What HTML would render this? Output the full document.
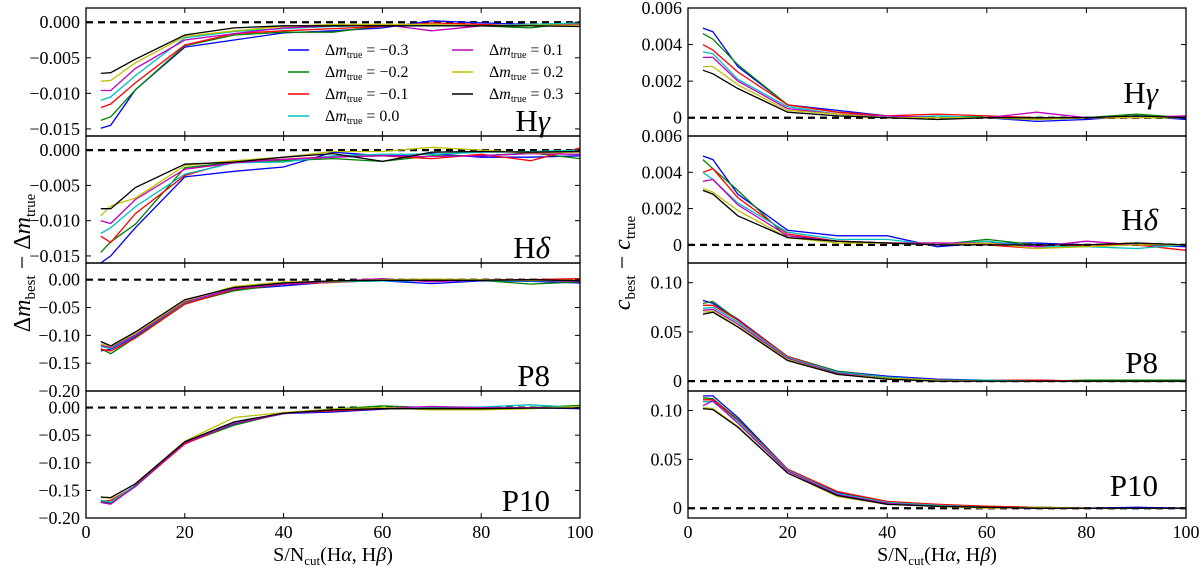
<!DOCTYPE html>
<html><head><meta charset="utf-8"><style>
html,body{margin:0;padding:0;background:#fff;}
svg, svg text{font-family:"Liberation Serif","DejaVu Serif",serif;}
</style></head><body>
<svg id="fig" width="1200" height="568" viewBox="0 0 1200 568" xmlns="http://www.w3.org/2000/svg" font-family="Liberation Serif, DejaVu Serif, serif"></svg>
<script>
const xs = [3,5,10,20,30,40,50,60,70,80,90,100];
const seriesColors = ['#0000ff','#008000','#ff0000','#00bfbf','#bf00bf','#bfbf00','#000000'];
const legendLabels = ['\u22120.3','\u22120.2','\u22120.1','0.0','0.1','0.2','0.3'];
const xTicks = [0,20,40,60,80,100];

const lHg = [
[-0.0149,-0.0145,-0.0095,-0.0035,-0.0025,-0.0015,-0.0012,-0.0008,0.0002,-0.0001,-0.0003,-0.0003],
[-0.0138,-0.0133,-0.0095,-0.0033,-0.0018,-0.0014,-0.0014,-0.0005,-0.0004,-0.0005,-0.0008,0.0],
[-0.012,-0.0115,-0.0085,-0.0032,-0.0016,-0.0012,-0.0009,-0.0006,-0.0001,-0.0003,-0.0005,-0.0002],
[-0.011,-0.0105,-0.0075,-0.0022,-0.0013,-0.0009,-0.0006,-0.0004,-0.0003,-0.0005,-0.0003,-0.0001],
[-0.0096,-0.0096,-0.0065,-0.0025,-0.0016,-0.0008,-0.0005,-0.0003,-0.0012,-0.0005,-0.0005,-0.0003],
[-0.0083,-0.0082,-0.0057,-0.002,-0.0012,-0.0006,-0.0003,-0.0003,-0.0003,-0.0005,-0.0004,-0.0004],
[-0.0072,-0.0071,-0.0052,-0.0018,-0.0008,-0.0005,-0.0005,-0.0005,-0.0005,-0.0005,-0.0005,-0.0006]];
const lHd = [
[-0.016,-0.015,-0.011,-0.0038,-0.003,-0.0024,-0.0003,-0.0008,-0.0005,-0.001,-0.001,-0.0008],
[-0.0145,-0.013,-0.0105,-0.0025,-0.0017,-0.0015,-0.0012,-0.0016,-0.0008,-0.0008,-0.0004,-0.0012],
[-0.0122,-0.0131,-0.009,-0.0036,-0.0016,-0.0013,-0.0009,-0.0008,-0.0012,-0.0006,-0.0015,0.0003],
[-0.0118,-0.011,-0.008,-0.0034,-0.0018,-0.0017,-0.0008,-0.0006,-0.0006,-0.0003,-0.0002,0.0],
[-0.01,-0.0104,-0.007,-0.0027,-0.0018,-0.0013,-0.001,-0.0008,-0.0009,-0.0008,-0.0005,-0.0006],
[-0.0093,-0.0079,-0.0068,-0.0022,-0.0015,-0.001,-0.0002,-0.0002,0.0004,0.0,-0.0004,-0.0003],
[-0.0083,-0.0083,-0.0053,-0.002,-0.0017,-0.001,-0.0005,-0.0016,-0.0003,-0.0002,-0.0003,-0.0002]];
const lP8 = [
[-0.128,-0.125,-0.102,-0.042,-0.018,-0.011,-0.004,-0.002,-0.007,-0.002,-0.003,-0.006],
[-0.124,-0.133,-0.104,-0.043,-0.02,-0.008,-0.004,-0.001,-0.002,-0.001,-0.008,-0.004],
[-0.125,-0.128,-0.105,-0.044,-0.017,-0.008,-0.005,-0.001,-0.002,0.0,0.0,0.002],
[-0.12,-0.124,-0.1,-0.041,-0.016,-0.007,-0.004,-0.002,-0.002,-0.001,-0.002,-0.003],
[-0.118,-0.122,-0.099,-0.04,-0.016,-0.008,-0.003,0.002,-0.004,0.0,-0.001,-0.003],
[-0.115,-0.12,-0.096,-0.038,-0.012,-0.004,-0.003,0.0,0.001,0.0,-0.001,-0.001],
[-0.111,-0.119,-0.094,-0.036,-0.014,-0.006,-0.002,-0.001,-0.001,-0.001,0.0,-0.002]];
const lP10 = [
[-0.171,-0.174,-0.143,-0.064,-0.03,-0.011,-0.008,-0.003,0.002,-0.002,0.0,-0.002],
[-0.17,-0.172,-0.143,-0.065,-0.032,-0.01,-0.003,0.003,0.0,-0.001,0.0,0.004],
[-0.17,-0.168,-0.142,-0.066,-0.028,-0.01,-0.006,-0.002,-0.002,-0.002,-0.001,0.0],
[-0.168,-0.171,-0.141,-0.063,-0.028,-0.011,-0.004,-0.001,0.001,0.001,0.005,0.0],
[-0.172,-0.175,-0.142,-0.064,-0.029,-0.011,-0.004,-0.001,0.002,0.0,0.0,0.0],
[-0.163,-0.164,-0.138,-0.061,-0.018,-0.009,-0.003,0.0,-0.004,-0.004,-0.002,0.002],
[-0.162,-0.163,-0.138,-0.062,-0.026,-0.01,-0.004,-0.002,-0.002,-0.002,-0.001,-0.001]];
const rHg = [
[0.0049,0.0047,0.0028,0.0007,0.0004,0.0001,0.0,0.0,-0.0002,-0.0001,0.0001,-0.0001],
[0.0046,0.0043,0.0029,0.0007,0.0003,0.0001,0.0,0.0001,-0.0001,0.0,0.0002,0.0],
[0.004,0.0037,0.0025,0.0007,0.0003,0.0001,0.0002,0.0001,0.0,0.0,0.0,0.0001],
[0.0036,0.0035,0.0021,0.0006,0.0002,0.0,0.0001,0.0,-0.0001,0.0,0.0001,0.0],
[0.0033,0.0033,0.002,0.0005,0.0002,0.0001,0.0,0.0,0.0003,0.0,0.0,0.0001],
[0.0028,0.0028,0.0018,0.0004,0.0002,0.0,0.0,0.0,-0.0001,0.0,0.0,0.0],
[0.0026,0.0024,0.0016,0.0003,0.0001,0.0,-0.0001,0.0,0.0,0.0,0.0001,0.0]];
const rHd = [
[0.0049,0.0047,0.0028,0.0008,0.0005,0.0005,-0.0001,0.0001,0.0001,0.0,0.0,-0.0001],
[0.0047,0.0042,0.003,0.0004,0.0002,0.0001,0.0,0.0003,0.0,0.0,0.0001,0.0],
[0.004,0.0042,0.0026,0.0006,0.0002,0.0001,0.0001,0.0,-0.0002,0.0,0.0,-0.0003],
[0.004,0.0036,0.0023,0.0007,0.0003,0.0003,0.0,0.0002,-0.0001,-0.0001,-0.0002,0.0],
[0.0035,0.0036,0.0022,0.0005,0.0002,0.0001,0.0001,0.0001,-0.0001,0.0002,0.0,0.0],
[0.0031,0.0029,0.0019,0.0004,0.0001,0.0001,0.0,0.0001,-0.0002,-0.0001,0.0,0.0],
[0.003,0.0028,0.0016,0.0004,0.0002,0.0001,0.0,0.0,0.0,0.0,0.0001,0.0]];
const rP8 = [
[0.082,0.079,0.063,0.025,0.010,0.005,0.002,0.001,0.001,0.0,0.001,0.0],
[0.079,0.081,0.062,0.025,0.010,0.004,0.001,0.001,0.0,0.001,0.001,0.001],
[0.077,0.077,0.062,0.025,0.009,0.004,0.001,0.001,0.001,0.0,0.0,0.0],
[0.074,0.075,0.060,0.024,0.009,0.004,0.001,0.001,0.0,0.0,0.0,0.0],
[0.072,0.073,0.058,0.023,0.008,0.003,0.001,0.0,0.0,0.0,0.0,0.0],
[0.070,0.071,0.056,0.022,0.007,0.003,0.001,0.0,0.0,0.0,0.0,0.0],
[0.068,0.070,0.055,0.021,0.007,0.002,0.0,0.0,0.0,0.0,0.0,0.0]];
const rP10 = [
[0.115,0.115,0.093,0.040,0.016,0.006,0.003,0.001,0.0,0.0,0.001,0.0],
[0.113,0.112,0.091,0.040,0.017,0.006,0.003,0.002,0.001,0.0,0.0,0.0],
[0.111,0.111,0.090,0.040,0.017,0.007,0.004,0.002,0.001,0.0,0.0,0.0],
[0.109,0.109,0.089,0.039,0.015,0.006,0.003,0.001,0.0,0.0,0.0,0.0],
[0.105,0.110,0.087,0.038,0.014,0.005,0.002,0.001,0.0,0.0,0.0,0.0],
[0.103,0.102,0.084,0.036,0.012,0.004,0.002,0.0,0.001,0.0,0.0,0.0],
[0.102,0.101,0.083,0.036,0.013,0.004,0.002,0.001,0.0,0.0,0.0,0.0]];

const lTickHg = ['0.000','\u22120.005','\u22120.010','\u22120.015'];
const lTickP = ['0.00','\u22120.05','\u22120.10','\u22120.15','\u22120.20'];
const rTickH = ['0.006','0.004','0.002','0'];
const rTickP = ['0.10','0.05','0'];

const NS='http://www.w3.org/2000/svg';
const FF='Liberation Serif, DejaVu Serif, serif';
const svg=document.getElementById('fig');
function mk(tag,attrs,parent){const e=document.createElementNS(NS,tag);for(const k in attrs)e.setAttribute(k,attrs[k]);if(tag==='text')e.setAttribute('font-family',FF);(parent||svg).appendChild(e);return e;}
function num(s){return parseFloat(s.replace('\u2212','-'));}

const panelTops=[8,136,263,391];
const panelH=[128,127,128,127];
const panels=[
 {side:'L',id:'hgamma-left',label:'H',greek:'\u03b3',data:lHg,ymin:-0.016,ymax:0.002,ticks:lTickHg,lx:550,ly:131},
 {side:'L',id:'hdelta-left',label:'H',greek:'\u03b4',data:lHd,ymin:-0.016,ymax:0.002,ticks:lTickHg,lx:550,ly:258},
 {side:'L',id:'p8-left',label:'P8',data:lP8,ymin:-0.2,ymax:0.03,ticks:lTickP,lx:550,ly:386},
 {side:'L',id:'p10-left',label:'P10',data:lP10,ymin:-0.2,ymax:0.03,ticks:lTickP,lx:550,ly:511},
 {side:'R',id:'hgamma-right',label:'H',greek:'\u03b3',data:rHg,ymin:-0.001,ymax:0.006,ticks:rTickH,lx:1158,ly:103},
 {side:'R',id:'hdelta-right',label:'H',greek:'\u03b4',data:rHd,ymin:-0.001,ymax:0.006,ticks:rTickH,lx:1158,ly:230},
 {side:'R',id:'p8-right',label:'P8',data:rP8,ymin:-0.01,ymax:0.12,ticks:rTickP,lx:1158,ly:373},
 {side:'R',id:'p10-right',label:'P10',data:rP10,ymin:-0.01,ymax:0.12,ticks:rTickP,lx:1158,ly:496}];

panels.forEach((p,i)=>{
  const k=i%4;
  const x0=p.side==='L'?86:688, x1=p.side==='L'?580:1186;
  const top=panelTops[k], h=panelH[k], bot=top+h;
  const sx=v=>x0+(v/100)*(x1-x0);
  const sy=v=>bot-(v-p.ymin)/(p.ymax-p.ymin)*h;
  const g=mk('g',{});
  
  
  const z=mk('line',{x1:x0,x2:x1,y1:sy(0),y2:sy(0),stroke:'#000','stroke-width':2.2,'stroke-dasharray':'7,5'},g);
  
  
  p.data.forEach((s,j)=>{
    const d=s.map((v,m)=>(m?'L':'M')+sx(xs[m]).toFixed(1)+','+sy(v).toFixed(1)).join('');
    const pl=mk('path',{d:d,fill:'none',stroke:seriesColors[j],'stroke-width':1.3},g);
    
    
  });
  const fr=mk('rect',{x:x0,y:top,width:x1-x0,height:h,fill:'none',stroke:'#000','stroke-width':1.3},g);
  
  
  xTicks.forEach(t=>{
    mk('line',{x1:sx(t),x2:sx(t),y1:bot,y2:bot-5,stroke:'#000','stroke-width':1},g);
    mk('line',{x1:sx(t),x2:sx(t),y1:top,y2:top+5,stroke:'#000','stroke-width':1},g);
  });
  p.ticks.forEach(lbl=>{
    const v=num(lbl), y=sy(v);
    mk('line',{x1:x0,x2:x0+5,y1:y,y2:y,stroke:'#000','stroke-width':1},g);
    mk('line',{x1:x1,x2:x1-5,y1:y,y2:y,stroke:'#000','stroke-width':1},g);
    const t=mk('text',{x:x0-6,y:y+6,'text-anchor':'end','font-size':18},g);
    t.textContent=lbl;
    
    
  });
  const pl=mk('text',{x:p.lx,y:p.ly,'text-anchor':'end','font-size':31},g);
  
  
  if(p.greek){pl.textContent=p.label;const ts=mk('tspan',{'font-style':'italic'},pl);ts.textContent=p.greek;}
  else pl.textContent=p.label;
  if(k===3){
    xTicks.forEach(t=>{
      const tl=mk('text',{x:sx(t),y:538,'text-anchor':'middle','font-size':18},g);
      tl.textContent=t;
      
      
    });
    const xl=mk('text',{x:(x0+x1)/2,y:561,'text-anchor':'middle','font-size':20},g);
    
    
    xl.innerHTML='S/N<tspan font-size="13" dy="4">cut</tspan><tspan dy="-4">(H</tspan><tspan font-style="italic">\u03b1</tspan><tspan>, H</tspan><tspan font-style="italic">\u03b2</tspan><tspan>)</tspan>';
  }
});

const leg=mk('g',{});


legendLabels.forEach((lbl,j)=>{
  const col=j<4?0:1, row=j<4?j:j-4;
  const lx=col?452:288, ly=50+row*22;
  const e=mk('g',{},leg);
  
  
  mk('line',{x1:lx,x2:lx+21,y1:ly,y2:ly,stroke:seriesColors[j],'stroke-width':1.5},e);
  const t=mk('text',{x:lx+37,y:ly+5,'font-size':16},e);
  t.innerHTML='\u0394<tspan font-style="italic">m</tspan><tspan font-size="10" dy="3">true</tspan><tspan dy="-3"> = '+lbl+'</tspan>';
});

const yl=mk('text',{transform:'translate(30,263) rotate(-90)','text-anchor':'middle','font-size':24});


yl.innerHTML='\u0394<tspan font-style="italic">m</tspan><tspan font-size="15" dy="5">best</tspan><tspan dy="-5"> \u2212 \u0394</tspan><tspan font-style="italic">m</tspan><tspan font-size="15" dy="5">true</tspan>';
const yr=mk('text',{transform:'translate(630,263) rotate(-90)','text-anchor':'middle','font-size':24});


yr.innerHTML='<tspan font-style="italic">c</tspan><tspan font-size="15" dy="5">best</tspan><tspan dy="-5"> \u2212 </tspan><tspan font-style="italic">c</tspan><tspan font-size="15" dy="5">true</tspan>';
</script>
</body></html>
